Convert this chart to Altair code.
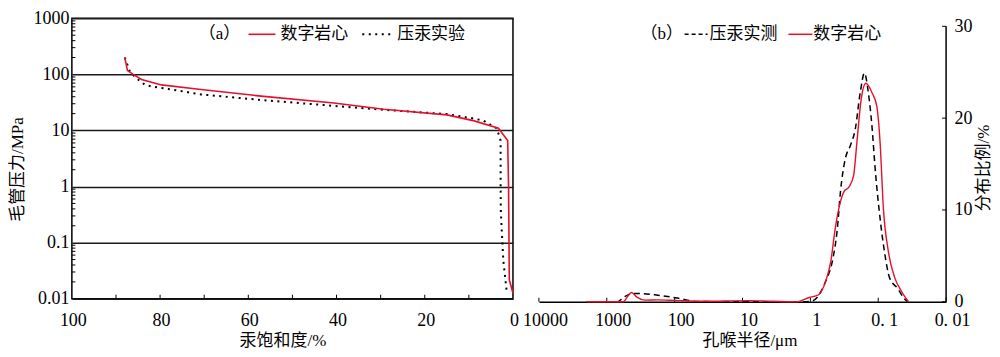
import altair as alt
import pandas as pd

FONT = "Liberation Serif, Noto Sans CJK SC"
RED = "#e6102d"

# ---------- (a) capillary pressure curves ----------
sat_core = [88.0, 87.4, 86.1, 84.2, 79.7, 70.7, 57.1, 40.6, 29.3, 15.0, 9.0, 3.3, 1.2, 1.0, 0.9, 0.84, 0.0]
pc_core = [200, 117, 100, 81, 65, 54, 41, 31, 24, 19, 15, 11, 6.6, 1.0, 0.1, 0.022, 0.0125]

sat_hg = [88.0, 86.8, 85.3, 83.4, 81.9, 78.2, 70.7, 57.1, 40.6, 29.3, 15.0, 9.0, 6.7, 3.7, 2.8, 2.8, 2.75, 2.2, 1.4]
pc_hg = [200, 110, 85, 65, 61, 55, 44, 35, 27.5, 23.4, 19.6, 16.4, 15, 11, 6.6, 1.0, 0.35, 0.049, 0.013]

a_y_ticks = [0.01, 0.1, 1, 10, 100, 1000]
a_x_labels = [0, 20, 40, 60, 80, 100]
a_x_minor = [10, 20, 30, 40, 50, 60, 70, 80, 90]
a_y_minor = [m * 10.0 ** k for k in range(-2, 3) for m in range(2, 10)]

# ---------- (b) pore-throat radius distribution ----------
r_hg = [2000, 700, 560, 420, 347, 178, 91, 47, 10, 1.2, 0.93, 0.79, 0.59, 0.475, 0.40, 0.36,
        0.305, 0.258, 0.218, 0.184, 0.16, 0.14, 0.124, 0.111, 0.094, 0.080, 0.068, 0.051, 0.041, 0.036]
f_hg = [0, 0, 0.5, 0.9, 0.9, 0.72, 0.4, 0.03, 0, 0, 0.1, 0.5, 2.3, 4.4, 8.0, 12.0,
        15.6, 17.0, 18.8, 22.8, 24.9, 22.8, 19.2, 14.5, 9.1, 5.2, 2.6, 1.4, 0.3, 0]

r_core = [2000, 700, 570, 500, 433, 360, 275, 178, 100, 40, 8, 1.6, 1.04, 0.83, 0.74, 0.59, 0.50,
          0.43, 0.36, 0.32, 0.27, 0.23, 0.206, 0.178, 0.152, 0.124, 0.105, 0.094, 0.084, 0.071,
          0.057, 0.046, 0.036]
f_core = [0, 0, 0, 0.5, 1.0, 0.5, 0.18, 0.2, 0.15, 0.05, 0.12, 0, 0.46, 0.65, 0.83, 2.3, 4.4,
          8.0, 10.9, 12.0, 12.5, 13.8, 17.4, 22.1, 23.8, 22.8, 21.3, 17.4, 10.2, 5.5,
          2.6, 1.2, 0]

b_x_ticks = [10000, 1000, 100, 10, 1, 0.1, 0.01]
b_y_ticks = [0, 10, 20, 30]

WA, HA = 442, 281
WB, HB = 408, 284
B_YMAX = 30.87
LEG_Y = 16
FS = 18      # tick labels
TS = 17      # titles / legend

ONE = pd.DataFrame({"k": [0]})


def txt(t, x, y, align="left", angle=0):
    kw = dict(text=t, align=align, baseline="middle", font=FONT, fontSize=TS, color="black")
    if angle:
        kw["angle"] = angle
    return alt.Chart(ONE).mark_text(**kw).encode(x=alt.value(x), y=alt.value(y))


def seg(x1, x2, y, color, width, dash=None):
    kw = dict(color=color, strokeWidth=width)
    if dash is not None:
        kw["strokeDash"] = dash
    return alt.Chart(ONE).mark_rule(**kw).encode(x=alt.value(x1), x2=alt.value(x2), y=alt.value(y))


# ---------------- panel a ----------------
xa = alt.X("sat:Q", scale=alt.Scale(domain=[0, 100], reverse=True, nice=False, zero=False),
           axis=alt.Axis(values=a_x_labels, format="d", title="汞饱和度/%", grid=False, ticks=False,
                         tickSize=0, domain=False, labelFlush=False, labelPadding=13, labelOffset=1,
                         titlePadding=3, titleX=211))
ya = alt.Y("pc:Q", scale=alt.Scale(type="log", domain=[0.01, 1000], nice=False),
           axis=alt.Axis(values=a_y_ticks,
                         labelExpr="datum.value < 0.05 ? '0.01' : datum.value < 0.5 ? '0.1' : format(datum.value, 'd')",
                         title="毛管压力/MPa", grid=True, gridColor="#1a1a1a", gridWidth=1.5, gridOpacity=1,
                         ticks=False, tickSize=0, domain=False, labelFlush=False, labelPadding=3,
                         titlePadding=6, titleY=151))

df_core_a = pd.DataFrame({"sat": sat_core, "pc": pc_core, "i": list(range(len(sat_core)))})
df_hg_a = pd.DataFrame({"sat": sat_hg, "pc": pc_hg, "i": list(range(len(sat_hg)))})

hg_a = alt.Chart(df_hg_a).mark_line(color="black", strokeWidth=2, strokeDash=[2, 4.5]).encode(
    x=xa, y=ya, order="i:Q")
core_a = alt.Chart(df_core_a).mark_line(color=RED, strokeWidth=1.6).encode(x=xa, y=ya, order="i:Q")

tick_ay = alt.Chart(pd.DataFrame({"pc": a_y_minor})).mark_rule(color="black", strokeWidth=1).encode(
    y=ya, x=alt.value(0), x2=alt.value(3.5))
tick_ax = alt.Chart(pd.DataFrame({"sat": a_x_minor})).mark_rule(color="black", strokeWidth=1).encode(
    x=xa, y=alt.value(HA), y2=alt.value(HA - 4))

leg_a = [
    txt("（a）", 148, LEG_Y, align="center"),
    seg(177, 204, LEG_Y, RED, 1.6),
    txt("数字岩心", 209, LEG_Y),
    seg(291, 319, LEG_Y, "black", 2, [2, 4.5]),
    txt("压汞实验", 326, LEG_Y),
]

pa = alt.layer(tick_ay, tick_ax, hg_a, core_a, *leg_a).properties(
    width=WA, height=HA, view=alt.ViewBackground(stroke="black", strokeWidth=1.5))

# ---------------- panel b ----------------
xb = alt.X("r:Q", scale=alt.Scale(type="log", domain=[0.01, 10000], reverse=True, nice=False),
           axis=alt.Axis(values=b_x_ticks,
                         labelExpr="datum.value < 0.05 ? '0. 01' : datum.value < 0.5 ? '0. 1' : format(datum.value, 'd')",
                         title="孔喉半径/μm", grid=False, ticks=False, tickSize=0, domain=True,
                         domainColor="black", domainWidth=1.5, labelFlush=False, labelPadding=10,
                         labelOffset=6, titlePadding=3, titleX=211))
yb = alt.Y("f:Q", scale=alt.Scale(domain=[0, B_YMAX], nice=False, zero=True),
           axis=alt.Axis(orient="right", values=b_y_ticks, format="d", title=None,
                         grid=False, ticks=False, tickSize=0, domain=False, labelFlush=False,
                         labelPadding=8))

df_hg_b = pd.DataFrame({"r": r_hg, "f": f_hg})
df_core_b = pd.DataFrame({"r": r_core, "f": f_core})

hg_b = alt.Chart(df_hg_b).mark_line(color="black", strokeWidth=1.5, strokeDash=[6, 4],
                                    interpolate="monotone").encode(x=xb, y=yb)
core_b = alt.Chart(df_core_b).mark_line(color=RED, strokeWidth=1.4, interpolate="monotone").encode(x=xb, y=yb)

axis_line_b = alt.Chart(pd.DataFrame({"f": [0], "f2": [30]})).mark_rule(color="black", strokeWidth=1.5).encode(
    x=alt.value(WB), y=yb, y2="f2:Q")
tick_by = alt.Chart(pd.DataFrame({"f": b_y_ticks})).mark_rule(color="black", strokeWidth=1).encode(
    y=yb, x=alt.value(WB - 4), x2=alt.value(WB))
tick_bx = alt.Chart(pd.DataFrame({"r": b_x_ticks})).mark_rule(color="black", strokeWidth=1).encode(
    x=xb, y=alt.value(HB), y2=alt.value(HB - 4))

leg_b = [
    txt("（b）", 123, LEG_Y, align="center"),
    seg(146, 169, LEG_Y, "black", 1.5, [4, 3]),
    txt("压汞实测", 171, LEG_Y),
    seg(250, 274, LEG_Y, RED, 1.5),
    txt("数字岩心", 275, LEG_Y),
    txt("分布比例/%", WB + 38, 150, align="center", angle=270),
]

pb = alt.layer(axis_line_b, tick_by, tick_bx, hg_b, core_b, *leg_b).properties(width=WB, height=HB)

chart = alt.hconcat(pa, pb, spacing=26, bounds="flush").properties(padding=0).configure(
    font=FONT).configure_view(strokeWidth=0).configure_axis(
    labelFont=FONT, titleFont=FONT, labelColor="black", titleColor="black",
    labelFontSize=FS, titleFontSize=TS, titleFontWeight="normal")

chart.save("out.html", embed_options={"renderer": "svg", "actions": False})
